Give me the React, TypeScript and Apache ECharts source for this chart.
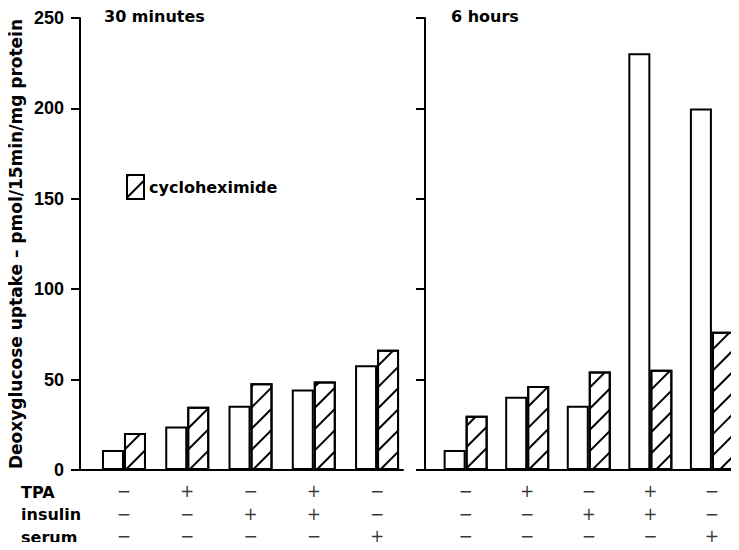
import React, { useEffect, useRef } from "react";
import * as echarts from "echarts";

const positions = [1, 2, 3, 4, 5];
const tpaRow = ["−", "+", "−", "+", "−"];
const insulinRow = ["−", "−", "+", "+", "−"];
const serumRow = ["−", "−", "−", "−", "+"];
const rowNames = ["TPA", "insulin", "serum"];
const min30Control = [11, 24, 35.5, 44.5, 58];
const min30Cyclo = [20.5, 35, 48, 49, 66.5];
const hr6Control = [11, 40.5, 35.5, 230.5, 200];
const hr6Cyclo = [30, 46.5, 54.5, 55.5, 76.5];
const panelTitles = ["30 minutes", "6 hours"];
const yTitle = "Deoxyglucose uptake – pmol/15min/mg protein";

const FONT = "DejaVu Sans";

export default function App() {
  const ref = useRef<HTMLDivElement>(null);
  useEffect(() => {
    if (!ref.current) return;
    const chart = echarts.init(ref.current, null, { renderer: "svg" });
    const decal = {
      symbol: "rect",
      symbolSize: 1,
      color: "#000",
      backgroundColor: "#fff",
      dashArrayX: [1, 0],
      dashArrayY: [2, 13],
      rotation: -Math.PI / 4,
    };
    const openStyle = { color: "#fff", borderColor: "#000", borderWidth: 2 };
    const hatchStyle = { color: "#fff", borderColor: "#000", borderWidth: 2, decal };
    const labelData = positions.map((p, i) => ({
      value: [p, 0],
      label: { formatter: [tpaRow[i], insulinRow[i], serumRow[i]].join("\n") },
    }));
    const xAxisBase = {
      type: "value",
      axisLine: { show: true, onZero: false, lineStyle: { color: "#000", width: 2 } },
      axisTick: { show: false },
      axisLabel: { show: false },
      splitLine: { show: false },
    };
    const yAxisBase = {
      type: "value",
      min: 0,
      max: 250,
      interval: 50,
      axisLine: { show: true, lineStyle: { color: "#000", width: 2 } },
      axisTick: { show: true, length: 9, lineStyle: { color: "#000", width: 2 } },
      splitLine: { show: false },
    };
    const labelSeries = (idx: number) => ({
      type: "scatter",
      xAxisIndex: idx,
      yAxisIndex: idx,
      symbolSize: 0,
      clip: false,
      silent: true,
      data: labelData,
      label: {
        show: true,
        position: "bottom",
        distance: 10,
        color: "#000",
        fontFamily: FONT,
        fontSize: 17,
        lineHeight: 22.5,
        align: "center",
      },
    });
    const titleStyle = { fontFamily: FONT, fontWeight: "bold", fontSize: 16, color: "#000" };
    chart.setOption({
      animation: false,
      backgroundColor: "#fff",
      title: [
        { text: panelTitles[0], left: 104, top: 8, padding: 0, textStyle: titleStyle },
        { text: panelTitles[1], left: 451, top: 8, padding: 0, textStyle: titleStyle },
        {
          text: rowNames.join("\n"),
          left: 21,
          top: 481,
          padding: 0,
          textStyle: { fontFamily: FONT, fontWeight: "bold", fontSize: 16, lineHeight: 22.5, color: "#000" },
        },
      ],
      legend: {
        data: ["cycloheximide"],
        left: 126,
        top: 174,
        padding: 0,
        itemWidth: 17,
        itemHeight: 24,
        icon: "rect",
        itemGap: 6,
        textStyle: { fontFamily: FONT, fontWeight: "bold", fontSize: 16, color: "#000", padding: [6, 0, 0, 0] },
      },
      grid: [
        { left: 80, top: 18, width: 323, height: 452 },
        { left: 425, top: 18, width: 325, height: 452 },
      ],
      xAxis: [
        { ...xAxisBase, gridIndex: 0, min: 0.305, max: 5.41 },
        { ...xAxisBase, gridIndex: 1, min: 0.34, max: 5.44 },
      ],
      yAxis: [
        {
          ...yAxisBase,
          gridIndex: 0,
          axisLabel: { show: true, color: "#000", fontFamily: "Liberation Sans", fontWeight: "bold", fontSize: 18, margin: 16 },
          name: yTitle,
          nameLocation: "middle",
          nameGap: 56,
          nameTextStyle: { fontFamily: FONT, fontWeight: "bold", fontSize: 17, color: "#000" },
        },
        { ...yAxisBase, gridIndex: 1, axisLabel: { show: false } },
      ],
      series: [
        { name: "control", type: "bar", xAxisIndex: 0, yAxisIndex: 0, barWidth: 22, barGap: "0%", itemStyle: openStyle, data: positions.map((p, i) => [p, min30Control[i]]) },
        { name: "cycloheximide", type: "bar", xAxisIndex: 0, yAxisIndex: 0, barWidth: 22, barGap: "0%", itemStyle: hatchStyle, data: positions.map((p, i) => [p, min30Cyclo[i]]) },
        { name: "control", type: "bar", xAxisIndex: 1, yAxisIndex: 1, barWidth: 22, barGap: "0%", itemStyle: openStyle, data: positions.map((p, i) => [p, hr6Control[i]]) },
        { name: "cycloheximide", type: "bar", xAxisIndex: 1, yAxisIndex: 1, barWidth: 22, barGap: "0%", itemStyle: hatchStyle, data: positions.map((p, i) => [p, hr6Cyclo[i]]) },
        labelSeries(0),
        labelSeries(1),
      ],
    });
    return () => chart.dispose();
  }, []);
  return <div ref={ref} style={{ width: 739, height: 550, margin: -8 }} />;
}
